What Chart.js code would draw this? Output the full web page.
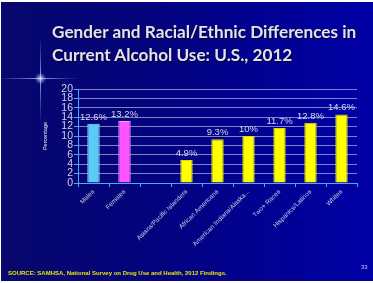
<!DOCTYPE html>
<html>
<head>
<meta charset="utf-8">
<script src="https://cdn.jsdelivr.net/npm/chart.js@4/dist/chart.umd.min.js"></script>
<style>
  html, body { margin: 0; padding: 0; background: #fff; }
  #slide {
    position: absolute; left: 1px; top: 2px; width: 372px; height: 279px;
    background: linear-gradient(90deg, #07076c 0%, #03037e 40%, #0000a6 100%);
    overflow: hidden;
  }
  #grafico { position: absolute; left: -1px; top: -2px; }
  #titulo {
    position: absolute; left: 51px; top: 18px; margin: 0;
    font-family: Lato, sans-serif; font-weight: bold; font-size: 17.2px;
    line-height: 23px; color: #e2e2ea; white-space: nowrap;
    text-shadow: 1px 1px 1px #000030;
  }
  #fonte {
    position: absolute; left: 7px; top: 268px;
    font-family: "Liberation Sans", Arial, sans-serif; font-size: 6px;
    font-weight: bold; color: #e6e600; white-space: nowrap;
  }
  #pagina {
    position: absolute; left: 360px; top: 262px;
    font-family: "Liberation Sans", Arial, sans-serif; font-size: 6px;
    color: #c8c8e8;
  }
</style>
</head>
<body>
<div id="slide">
  <canvas id="grafico" width="373" height="283"></canvas>
  <div id="titulo">Gender and Racial/Ethnic Differences in<br>Current Alcohol Use: U.S., 2012</div>
  <div id="fonte">SOURCE: SAMHSA, National Survey on Drug Use and Health, 2012 Findings.</div>
  <div id="pagina">33</div>
</div>
<script>
var categorias = ["Males", "Females", "", "Asians/Pacific Islanders", "African Americans",
  "American Indians/Alaska...", "Two+ Races", "Hispanics/Latinos", "Whites"];
var valores = [12.6, 13.2, null, 4.9, 9.3, 10, 11.7, 12.8, 14.6];
var rotulos = ["12.6%", "13.2%", "", "4.9%", "9.3%", "10%", "11.7%", "12.8%", "14.6%"];
var eixoMin = 0, eixoMax = 20, eixoPasso = 2;

var cores = ["#5ccaf6", "#ff55ff", "#ffff00", "#ffff00", "#ffff00", "#ffff00", "#ffff00", "#ffff00", "#ffff00"];
var bordas = ["#9fe0ff", "#ff9cff", "#e0e000", "#e0e000", "#e0e000", "#e0e000", "#e0e000", "#e0e000", "#e0e000"];

// brilho no canto esquerdo
var brilho = {
  id: "brilho",
  beforeDraw: function (chart) {
    var ctx = chart.ctx;
    ctx.save();
    var gh = ctx.createLinearGradient(0, 0, 80, 0);
    gh.addColorStop(0, "rgba(120,150,255,0.1)");
    gh.addColorStop(0.5, "rgba(190,210,255,0.8)");
    gh.addColorStop(1, "rgba(120,150,255,0)");
    ctx.fillStyle = gh;
    ctx.fillRect(0, 78, 80, 1);
    var gv = ctx.createLinearGradient(0, 35, 0, 125);
    gv.addColorStop(0, "rgba(120,150,255,0)");
    gv.addColorStop(0.48, "rgba(190,210,255,0.8)");
    gv.addColorStop(1, "rgba(120,150,255,0)");
    ctx.fillStyle = gv;
    ctx.fillRect(40, 35, 1, 90);
    var gr = ctx.createRadialGradient(40.5, 78.5, 0, 40.5, 78.5, 6);
    gr.addColorStop(0, "rgba(230,240,255,0.9)");
    gr.addColorStop(1, "rgba(150,170,255,0)");
    ctx.fillStyle = gr;
    ctx.fillRect(33, 71, 15, 15);
    ctx.restore();
  }
};

// valores em cima das barras
var valoresBarras = {
  id: "valoresBarras",
  afterDatasetsDraw: function (chart) {
    var ctx = chart.ctx;
    var meta = chart.getDatasetMeta(0);
    ctx.save();
    ctx.font = "9.5px 'Liberation Sans', Arial, sans-serif";
    ctx.fillStyle = "#d8d8ec";
    ctx.textAlign = "center";
    ctx.textBaseline = "bottom";
    meta.data.forEach(function (bar, i) {
      if (valores[i] == null) return;
      ctx.fillText(rotulos[i], bar.x, bar.y - 2);
    });
    ctx.restore();
  }
};

new Chart(document.getElementById("grafico").getContext("2d"), {
  type: "bar",
  data: {
    labels: categorias,
    datasets: [{
      data: valores,
      backgroundColor: cores,
      borderColor: bordas,
      borderWidth: 1,
      barPercentage: 0.4,
      categoryPercentage: 1
    }]
  },
  options: {
    responsive: false,
    animation: false,
    layout: { padding: { left: 42, top: 89, right: 16, bottom: 0 } },
    plugins: {
      legend: { display: false },
      tooltip: { enabled: false }
    },
    scales: {
      x: {
        afterFit: function (s) { s.height = 100; },
        border: { color: "#4aa6ff", width: 1 },
        grid: { drawOnChartArea: false, color: "#4aa6ff", tickLength: 4, offset: true },
        ticks: {
          autoSkip: false, minRotation: 45, maxRotation: 45, padding: 1,
          color: "#d0d0e4",
          font: { family: "'Liberation Sans', Arial, sans-serif", size: 6.5 }
        }
      },
      y: {
        min: eixoMin, max: eixoMax,
        afterFit: function (s) { s.width = 36; },
        border: { color: "#4aa6ff", width: 1 },
        grid: { color: "rgba(160,160,220,0.8)", tickColor: "#4aa6ff", tickLength: 4 },
        title: {
          display: true, text: "Percentage", color: "#e8e8f4", padding: 0,
          font: { family: "'Liberation Sans', Arial, sans-serif", size: 5.5 }
        },
        ticks: {
          stepSize: eixoPasso, autoSkip: false, padding: 1,
          color: "#d0d0e4",
          font: { family: "'Liberation Sans', Arial, sans-serif", size: 10.5, lineHeight: 1 }
        }
      }
    }
  },
  plugins: [brilho, valoresBarras]
});
</script>
</body>
</html>
